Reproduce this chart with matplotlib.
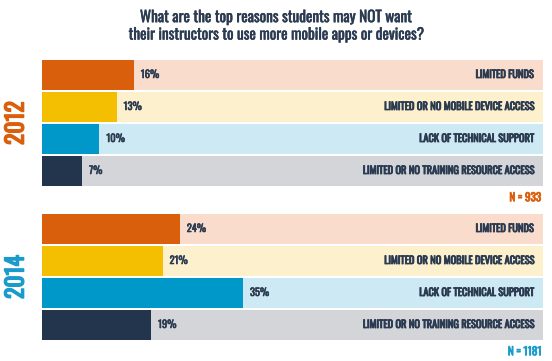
import matplotlib
matplotlib.use("Agg")
import matplotlib.pyplot as plt
import matplotlib.patheffects as pe

categories = ["LIMITED FUNDS", "LIMITED OR NO MOBILE DEVICE ACCESS",
              "LACK OF TECHNICAL SUPPORT", "LIMITED OR NO TRAINING RESOURCE ACCESS"]
values_2012 = [16, 13, 10, 7]
values_2014 = [24, 21, 35, 19]
years = ["2012", "2014"]
n_labels = ["N=933", "N=1181"]
title = "What are the top reasons students may NOT want\ntheir instructors to use more mobile apps or devices?"

bar_colors = ["#DA5F0C", "#F4BF00", "#0098C8", "#23354D"]
bg_colors = ["#F9DCCB", "#FDF1CD", "#CDE9F3", "#D3D5D9"]
year_colors = ["#DA5F0C", "#1A9BCB"]
text_color = "#2A3A50"
xmax = 87.2
cond = "Oswald"

def bold(color, w=0.5):
    return [pe.withStroke(linewidth=w, foreground=color)]

fig = plt.figure(figsize=(5.52, 3.61), dpi=100)
fig.text(0.5, 0.927, title, ha="center", va="center", fontsize=11,
         family=cond, color=text_color, linespacing=1.2,
         path_effects=bold(text_color, 0.35))

axes_pos = [[42/552, 1-187/361, 501/552, 128/361],
            [42/552, 1-341/361, 501/552, 128/361]]
for k, vals in enumerate([values_2012, values_2014]):
    ax = fig.add_axes(axes_pos[k])
    y = list(range(len(categories)))
    ax.barh(y, [xmax]*len(y), height=0.96, color=bg_colors, zorder=1)
    ax.barh(y, vals, height=0.96, color=bar_colors, zorder=2)
    for yi, v, c in zip(y, vals, categories):
        ax.text(v + 1.2, yi, f"{v}%", va="center", ha="left", fontsize=7.5,
                family=cond, color=text_color, zorder=3,
                path_effects=bold(text_color, 0.4))
        ax.text(xmax - 1.7, yi, c, va="center", ha="right", fontsize=7.5,
                family=cond, color=text_color, zorder=3,
                path_effects=bold(text_color, 0.6))
    ax.set_xlim(0, xmax)
    ax.set_ylim(len(y) - 0.5, -0.5)
    ax.axis("off")
    ax.text(-4.5, 1.5, years[k], rotation=90, ha="center", va="center",
            fontsize=17, family=cond, color=year_colors[k],
            path_effects=bold(year_colors[k], 1.0))
    ax.text(xmax - 0.3, len(y) - 0.5 + 0.32, n_labels[k].replace("=", " = "),
            ha="right", va="center", fontsize=8, family=cond,
            color=year_colors[k], path_effects=bold(year_colors[k], 0.6))

fig.savefig("out.png", dpi=100)
